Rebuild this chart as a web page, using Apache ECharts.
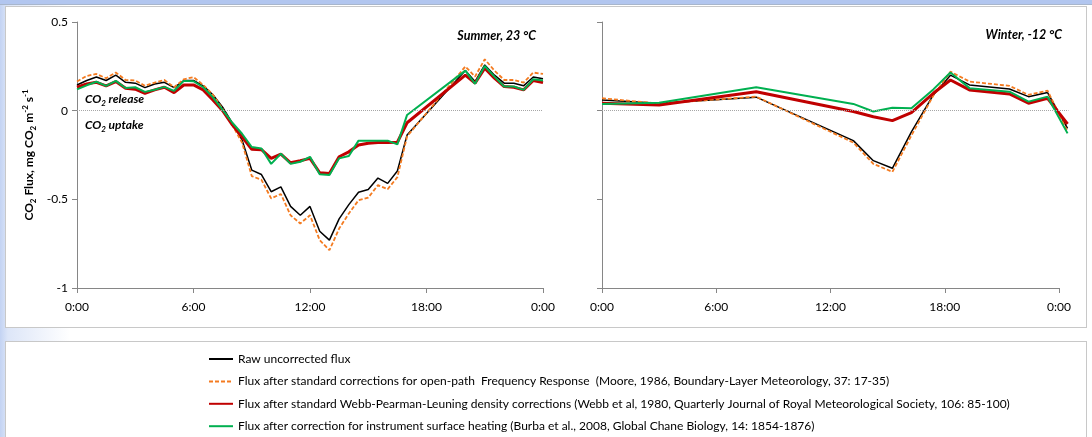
<!DOCTYPE html>
<html>
<head>
<meta charset="utf-8">
<script src="https://cdn.jsdelivr.net/npm/echarts@6/dist/echarts.min.js"></script>
<style>
  html, body { margin: 0; padding: 0; width: 1092px; height: 437px; overflow: hidden; }
  body { position: relative; background: linear-gradient(to right, #c3d3f3 0px, #dde6f8 8px, #ffffff 70px); }
  #topbar { position: absolute; left: 0; top: 0; width: 1092px; height: 4px; background: #b2c6ef; border-bottom: 1px solid #a8b6cc; }
  #plotbox { position: absolute; left: 5px; top: 6px; width: 1080px; height: 320px; background: #fff; border: 1px solid #c8c8c8; }
  #legendbox { position: absolute; left: 5px; top: 341px; width: 1080px; height: 100px; background: #fff; border: 1px solid #c8c8c8; }
  #chart { position: absolute; left: 0; top: 0; width: 1092px; height: 437px; }
</style>
</head>
<body>
<div id="topbar"></div>
<div id="plotbox"></div>
<div id="legendbox"></div>
<div id="chart"></div>
<script>
  // series names (legend)
  var names = [
    'Raw uncorrected flux',
    'Flux after standard corrections for open-path  Frequency Response  (Moore, 1986, Boundary-Layer Meteorology, 37: 17-35)',
    'Flux after standard Webb-Pearman-Leuning density corrections (Webb et al, 1980, Quarterly Journal of Royal Meteorological Society, 106: 85-100)',
    'Flux after correction for instrument surface heating (Burba et al., 2008, Global Chane Biology, 14: 1854-1876)'
  ];

  // summer, 23 C  (hours of day, half-hourly, gap 17:00-20:00)
  var summerHours = [0, 0.5, 1, 1.5, 2, 2.5, 3, 3.5, 4, 4.5, 5, 5.5, 6, 6.5, 7, 7.5, 8, 8.5, 9, 9.5,
    10, 10.5, 11, 11.5, 12, 12.5, 13, 13.5, 14, 14.5, 15, 15.5, 16, 16.5, 17,
    20, 20.5, 21, 21.5, 22, 22.5, 23, 23.5, 24];
  var summerRaw = [0.145, 0.17, 0.19, 0.17, 0.20, 0.16, 0.155, 0.13, 0.15, 0.16,
    0.13, 0.17, 0.17, 0.14, 0.09, 0.02, -0.07, -0.165, -0.335, -0.36,
    -0.457, -0.43, -0.54, -0.59, -0.54, -0.68, -0.73, -0.61, -0.53, -0.46,
    -0.445, -0.38, -0.41, -0.34, -0.137,
    0.226, 0.164, 0.258, 0.20, 0.155, 0.155, 0.14, 0.19, 0.18];
  var summerMoore = [0.164, 0.196, 0.207, 0.183, 0.215, 0.173, 0.17, 0.14, 0.158, 0.173,
    0.132, 0.177, 0.189, 0.145, 0.09, 0.01, -0.08, -0.18, -0.369, -0.39,
    -0.495, -0.47, -0.59, -0.636, -0.59, -0.73, -0.787, -0.665, -0.58, -0.505,
    -0.49, -0.42, -0.443, -0.375, -0.145,
    0.249, 0.192, 0.29, 0.226, 0.173, 0.173, 0.158, 0.215, 0.207];
  var summerWpl = [0.132, 0.151, 0.16, 0.14, 0.164, 0.127, 0.121, 0.098, 0.117, 0.132,
    0.102, 0.145, 0.145, 0.117, 0.06, 0.0, -0.08, -0.147, -0.218, -0.22,
    -0.269, -0.245, -0.294, -0.282, -0.269, -0.35, -0.354, -0.26, -0.232, -0.194,
    -0.184, -0.179, -0.179, -0.178, -0.068,
    0.20, 0.155, 0.24, 0.183, 0.136, 0.132, 0.117, 0.17, 0.158];
  var summerBurba = [0.12, 0.143, 0.163, 0.14, 0.168, 0.128, 0.132, 0.106, 0.118, 0.134,
    0.112, 0.168, 0.166, 0.132, 0.075, 0.005, -0.068, -0.13, -0.205, -0.213,
    -0.30, -0.243, -0.30, -0.288, -0.26, -0.358, -0.363, -0.269, -0.256, -0.169,
    -0.169, -0.169, -0.169, -0.19, -0.024,
    0.226, 0.151, 0.252, 0.192, 0.136, 0.136, 0.117, 0.177, 0.17];

  // winter, -12 C (last reading falls just past midnight)
  var winterHours = [0, 3, 8.1, 13.2, 14.25, 15.25, 16.25, 17.4, 18.3, 19.3, 21.4, 22.4, 23.4, 24.45];
  var winterRaw = [0.06, 0.042, 0.076, -0.169, -0.282, -0.325, -0.12, 0.089, 0.2, 0.145, 0.122, 0.079, 0.102, -0.1];
  var winterMoore = [0.07, 0.04, 0.079, -0.18, -0.30, -0.345, -0.14, 0.085, 0.22, 0.164, 0.14, 0.089, 0.113, -0.118];
  var winterWpl = [0.042, 0.032, 0.107, -0.005, -0.034, -0.056, -0.011, 0.098, 0.173, 0.117, 0.094, 0.042, 0.07, -0.075];
  var winterBurba = [0.038, 0.045, 0.132, 0.038, -0.005, 0.017, 0.013, 0.12, 0.215, 0.127, 0.107, 0.051, 0.079, -0.128];

  var FONT = 'Lato, "Liberation Sans", sans-serif';
  var lineStyles = [
    { color: '#000000', width: 1.5, type: 'solid' },
    { color: '#f47b20', width: 1.8, type: [4, 2] },
    { color: '#c00000', width: 3, type: 'solid' },
    { color: '#00b050', width: 2, type: 'solid' }
  ];

  function pairs(hours, vals) {
    return hours.map(function (h, i) { return [h, vals[i]]; });
  }

  function makeSeries(idx, hours, sets) {
    return sets.map(function (vals, k) {
      var s = {
        name: names[k],
        type: 'line',
        xAxisIndex: idx,
        yAxisIndex: idx,
        symbol: 'none',
        clip: false,
        color: lineStyles[k].color,
        lineStyle: lineStyles[k],
        data: pairs(hours, vals)
      };
      if (k === 0) {
        s.markLine = {
          silent: true,
          symbol: 'none',
          label: { show: false },
          lineStyle: { color: '#a6a6a6', type: 'dotted', width: 1 },
          data: [{ yAxis: 0 }]
        };
      }
      return s;
    });
  }

  function xAxis(idx) {
    return {
      type: 'value', gridIndex: idx, min: 0, max: 24, interval: 6,
      axisLine: { onZero: false, lineStyle: { color: '#868686' } },
      axisTick: { length: 5, lineStyle: { color: '#868686' } },
      splitLine: { show: false },
      axisLabel: {
        color: '#000', fontSize: 12, fontFamily: FONT, margin: 13,
        formatter: function (v) { return (v % 24) + ':00'; }
      }
    };
  }

  function yAxis(idx, labels) {
    var ax = {
      type: 'value', gridIndex: idx, min: -1, max: 0.5, interval: 0.5,
      axisLine: { show: true, lineStyle: { color: '#868686' } },
      axisTick: { show: true, length: 5, lineStyle: { color: '#868686' } },
      splitLine: { show: false },
      axisLabel: { show: labels, color: '#000', fontSize: 12, fontFamily: FONT, margin: 9 }
    };
    if (labels) {
      ax.name = '{b|CO}{bs|2}{b| Flux, mg CO}{bs|2}{b| m}{bp|-2}{b| s}{bp|-1}';
      ax.nameLocation = 'middle';
      ax.nameGap = 40;
      ax.nameTextStyle = {
        rich: {
          b: { fontSize: 12, fontWeight: 'bold', fontFamily: FONT, color: '#000', lineHeight: 16 },
          bs: { fontSize: 8, fontWeight: 'bold', fontFamily: FONT, color: '#000', verticalAlign: 'bottom', lineHeight: 16 },
          bp: { fontSize: 8, fontWeight: 'bold', fontFamily: FONT, color: '#000', verticalAlign: 'top', lineHeight: 12 }
        }
      };
    }
    return ax;
  }

  // hidden axes for the winter data: same scale as the visible axis but running a bit past midnight
  var winterDataX = { type: 'value', gridIndex: 2, min: 0, max: 24.5, show: false, splitLine: { show: false } };
  var winterDataY = { type: 'value', gridIndex: 2, min: -1, max: 0.5, show: false, splitLine: { show: false } };

  var italicRich = {
    i: { fontSize: 12, fontStyle: 'italic', fontFamily: FONT, color: '#000', lineHeight: 16 },
    s: { fontSize: 8, fontStyle: 'italic', fontFamily: FONT, color: '#000', verticalAlign: 'bottom', lineHeight: 16 }
  };

  var chart = echarts.init(document.getElementById('chart'));
  chart.setOption({
    animation: false,
    textStyle: { fontFamily: FONT },
    title: [
      { text: '{i|CO}{s|2}{i| release}', left: 85, top: 91, padding: 0, textStyle: { rich: italicRich } },
      { text: '{i|CO}{s|2}{i| uptake}', left: 85, top: 117, padding: 0, textStyle: { rich: italicRich } },
      { text: 'Summer, 23 °C', right: 556, top: 29, padding: 0,
        textStyle: { fontSize: 12.5, fontWeight: 'bold', fontStyle: 'italic', fontFamily: FONT, color: '#000' } },
      { text: 'Winter, -12 °C', right: 30, top: 28, padding: 0,
        textStyle: { fontSize: 12.5, fontWeight: 'bold', fontStyle: 'italic', fontFamily: FONT, color: '#000' } }
    ],
    legend: {
      orient: 'vertical',
      left: 208,
      top: 353,
      padding: 0,
      itemWidth: 24,
      itemHeight: 14,
      itemGap: 10.4,
      selectedMode: false,
      data: names,
      itemStyle: { opacity: 0 },
      textStyle: { fontSize: 12, color: '#000', fontFamily: FONT }
    },
    grid: [
      { left: 77, top: 22, width: 466, height: 266 },
      { left: 602, top: 22, width: 457, height: 266 },
      { left: 602, top: 22, width: 466.5, height: 266 }
    ],
    xAxis: [xAxis(0), xAxis(1), winterDataX],
    yAxis: [yAxis(0, true), yAxis(1, false), winterDataY],
    series: []
      .concat(makeSeries(0, summerHours, [summerRaw, summerMoore, summerWpl, summerBurba]))
      .concat(makeSeries(2, winterHours, [winterRaw, winterMoore, winterWpl, winterBurba]))
  });
</script>
</body>
</html>
